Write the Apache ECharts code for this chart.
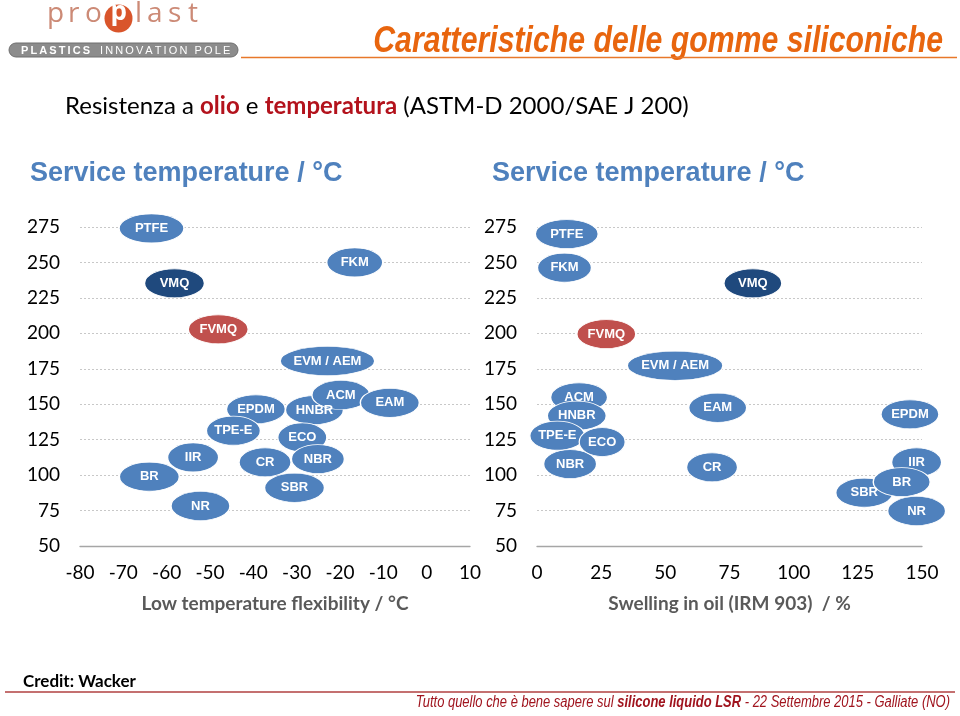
<!DOCTYPE html>
<html>
<head>
<meta charset="utf-8">
<script src="https://cdn.jsdelivr.net/npm/echarts@6/dist/echarts.min.js"></script>
<style>html,body{margin:0;padding:0;background:#fff;}#c{width:960px;height:716px;}</style>
</head>
<body>
<div id="c"></div>
<script>
// ---- data ----
var yTicks = [50, 75, 100, 125, 150, 175, 200, 225, 250, 275];
var leftXTicks = [-80, -70, -60, -50, -40, -30, -20, -10, 0, 10];
var rightXTicks = [0, 25, 50, 75, 100, 125, 150];

var leftNames = ['PTFE', 'FKM', 'VMQ', 'FVMQ', 'EVM / AEM', 'BR', 'IIR', 'NR', 'EPDM', 'TPE-E', 'HNBR', 'ACM', 'EAM', 'ECO', 'CR', 'NBR', 'SBR'];
var leftX = [-63.5, -16.6, -58.2, -48.1, -22.9, -64, -53.9, -52.2, -39.4, -44.6, -25.9, -19.8, -8.5, -28.7, -37.3, -25.1, -30.5];
var leftY = [274, 250, 235.3, 202.8, 180.5, 98.9, 112.5, 78.2, 146.4, 131.3, 145.9, 156.5, 151, 126.6, 109, 111.3, 91.1];

var rightNames = ['PTFE', 'FKM', 'VMQ', 'FVMQ', 'EVM / AEM', 'ACM', 'HNBR', 'NBR', 'TPE-E', 'ECO', 'EAM', 'CR', 'EPDM', 'IIR', 'SBR', 'BR', 'NR'];
var rightX = [11.6, 10.7, 84.1, 27, 53.8, 16.4, 15.5, 12.9, 7.9, 25.4, 70.4, 68.2, 145.3, 147.9, 127.5, 142.1, 147.9];
var rightY = [270, 246.3, 235.3, 199.5, 177.2, 154.9, 141.9, 107.8, 127.8, 123.3, 147.5, 105.5, 142.9, 109, 87.6, 95.1, 74.7];

// ---- styles ----
var colorMap = { 'VMQ': '#1F497D', 'FVMQ': '#C0504D' };
var defaultColor = '#4F81BD';
var leftW = { 'PTFE': 65, 'FKM': 56, 'VMQ': 60, 'FVMQ': 60, 'EVM / AEM': 95, 'BR': 60, 'IIR': 51, 'NR': 59, 'EPDM': 59, 'TPE-E': 54, 'HNBR': 58, 'ACM': 58, 'EAM': 59, 'ECO': 49, 'CR': 52, 'NBR': 53, 'SBR': 60 };
var rightW = { 'PTFE': 63, 'FKM': 54, 'VMQ': 58, 'FVMQ': 59, 'EVM / AEM': 96, 'ACM': 57, 'HNBR': 59, 'NBR': 53, 'TPE-E': 55, 'ECO': 46, 'EAM': 58, 'CR': 51, 'EPDM': 58, 'IIR': 50, 'SBR': 57, 'BR': 57, 'NR': 58 };
var ELLIPSE = 'path://M0,50 A50,50 0 1,1 100,50 A50,50 0 1,1 0,50 Z';
var tickFont = 'Lato, "Open Sans", sans-serif';
var arial = 'Arial, "Liberation Sans", sans-serif';

function buildData(names, xs, ys, wmap) {
  return names.map(function (n, i) {
    return {
      name: n,
      value: [xs[i], ys[i]],
      symbolSize: [wmap[n], 29],
      itemStyle: { color: colorMap[n] || defaultColor }
    };
  });
}

function yAxis(gi) {
  return {
    gridIndex: gi, type: 'value', min: 50, max: 275, interval: 25,
    axisLine: { show: false }, axisTick: { show: false },
    axisLabel: { color: '#000', fontSize: 19, fontFamily: tickFont, margin: 20 },
    splitLine: { show: true, lineStyle: { color: '#c8c8c8', type: [2, 2], width: 1 } }
  };
}
function xAxis(gi, min, max, interval, name) {
  return {
    gridIndex: gi, type: 'value', min: min, max: max, interval: interval,
    axisLine: { show: true, onZero: false, lineStyle: { color: '#a6a6a6', width: 1.3 } },
    axisTick: { show: false },
    splitLine: { show: false },
    axisLabel: { color: '#000', fontSize: 19, fontFamily: tickFont, margin: 17 },
    name: name, nameLocation: 'middle', nameGap: 48,
    nameTextStyle: { color: '#595959', fontSize: 19, fontWeight: 'bold', fontFamily: tickFont }
  };
}

var labelStyle = {
  show: true, position: 'inside', formatter: '{b}',
  color: '#fff', fontSize: 13, fontWeight: 'bold', fontFamily: arial
};

// letter-spaced logo texts
var measureCtx = document.createElement('canvas').getContext('2d');
function spaced(str, x0, y, font, spacing, fill) {
  measureCtx.font = font;
  var out = [], x = x0;
  for (var i = 0; i < str.length; i++) {
    var ch = str[i];
    if (ch !== ' ') out.push({ type: 'text', x: x, y: y, style: { text: ch, fill: fill, font: font, verticalAlign: 'middle' } });
    x += measureCtx.measureText(ch).width + spacing;
  }
  return out;
}
var logoGraphics = []
  .concat(spaced('PLASTICS', 21, 50.5, 'bold 11px ' + arial, 2.1, '#fff'))
  .concat(spaced('INNOVATION POLE', 100, 50.5, '11px ' + arial, 2.1, '#fff'));

var logoLetters = [['p', 47], ['r', 68], ['o', 85], ['l', 135], ['a', 147], ['s', 168], ['t', 188]];
var logoText = logoLetters.map(function (l) {
  return { type: 'text', x: l[1], y: 0, style: { text: l[0], fill: '#cc8a76', font: '28px "Open Sans", Lato, sans-serif' } };
});

var chart = echarts.init(document.getElementById('c'), null, { renderer: 'canvas' });
chart.setOption({
  backgroundColor: '#fff',
  animation: false,
  grid: [
    { left: 80, right: 490, top: 227, bottom: 170 },
    { left: 537, right: 38, top: 227, bottom: 170 }
  ],
  xAxis: [
    xAxis(0, -80, 10, 10, 'Low temperature flexibility / °C'),
    xAxis(1, 0, 150, 25, 'Swelling in oil (IRM 903)  / %')
  ],
  yAxis: [yAxis(0), yAxis(1)],
  series: [
    {
      type: 'scatter', xAxisIndex: 0, yAxisIndex: 0, symbol: ELLIPSE,
      data: buildData(leftNames, leftX, leftY, leftW),
      itemStyle: { borderColor: '#fff', borderWidth: 1, opacity: 1 },
      label: labelStyle, emphasis: { disabled: true }
    },
    {
      type: 'scatter', xAxisIndex: 1, yAxisIndex: 1, symbol: ELLIPSE,
      data: buildData(rightNames, rightX, rightY, rightW),
      itemStyle: { borderColor: '#fff', borderWidth: 1, opacity: 1 },
      label: labelStyle, emphasis: { disabled: true }
    }
  ],
  graphic: logoText.concat([
    { type: 'circle', shape: { cx: 118.5, cy: 18.5, r: 14 }, style: { fill: '#d9552b' } },
    { type: 'text', x: 110.5, y: 0, style: { text: 'p', fill: '#fff', font: 'bold 26px "Open Sans", Lato, sans-serif' } },
    { type: 'rect', shape: { x: 9, y: 43, width: 229, height: 14, r: 7 }, style: { fill: '#8c8c8c', stroke: '#6f6f6f', lineWidth: 1 } }
  ]).concat(logoGraphics).concat([
    // header title (narrowed Arial)
    { type: 'text', x: 943, y: 24, scaleX: 0.84, style: { text: 'Caratteristiche delle gomme siliconiche', fill: '#E8650E', font: 'italic bold 36px ' + arial, align: 'right', verticalAlign: 'top' } },
    { type: 'line', shape: { x1: 241, y1: 57.5, x2: 957, y2: 57.5 }, style: { stroke: '#E8782A', lineWidth: 1.5 } },
    // subtitle
    { type: 'text', left: 65, top: 94, style: {
      rich: {
        n: { fill: '#000', fontSize: 24, fontFamily: tickFont },
        r: { fill: '#B3121C', fontSize: 24, fontWeight: 'bold', fontFamily: tickFont }
      },
      text: '{n|Resistenza a }{r|olio}{n| e }{r|temperatura}{n| (ASTM-D 2000/SAE J 200)}'
    } },
    // chart headings
    { type: 'text', left: 30, top: 160, style: { text: 'Service temperature / °C', fill: '#4F81BD', font: 'bold 27px ' + arial } },
    { type: 'text', left: 492, top: 160, style: { text: 'Service temperature / °C', fill: '#4F81BD', font: 'bold 27px ' + arial } },
    // footer
    { type: 'text', left: 23, top: 673, style: { text: 'Credit: Wacker', fill: '#000', font: 'bold 17px ' + tickFont } },
    { type: 'line', shape: { x1: 5, y1: 692, x2: 955, y2: 692 }, style: { stroke: '#B04040', lineWidth: 1.5 } },
    { type: 'text', x: 950, y: 703, scaleX: 0.81, style: {
      align: 'right', verticalAlign: 'middle',
      rich: {
        a: { fill: '#A0141E', fontSize: 16, fontStyle: 'italic', fontFamily: arial },
        b: { fill: '#A0141E', fontSize: 16, fontStyle: 'italic', fontWeight: 'bold', fontFamily: arial }
      },
      text: '{a|Tutto quello che è bene sapere sul }{b|silicone liquido LSR}{a| - 22 Settembre 2015 - Galliate (NO)}'
    } }
  ])
});
</script>
</body>
</html>
